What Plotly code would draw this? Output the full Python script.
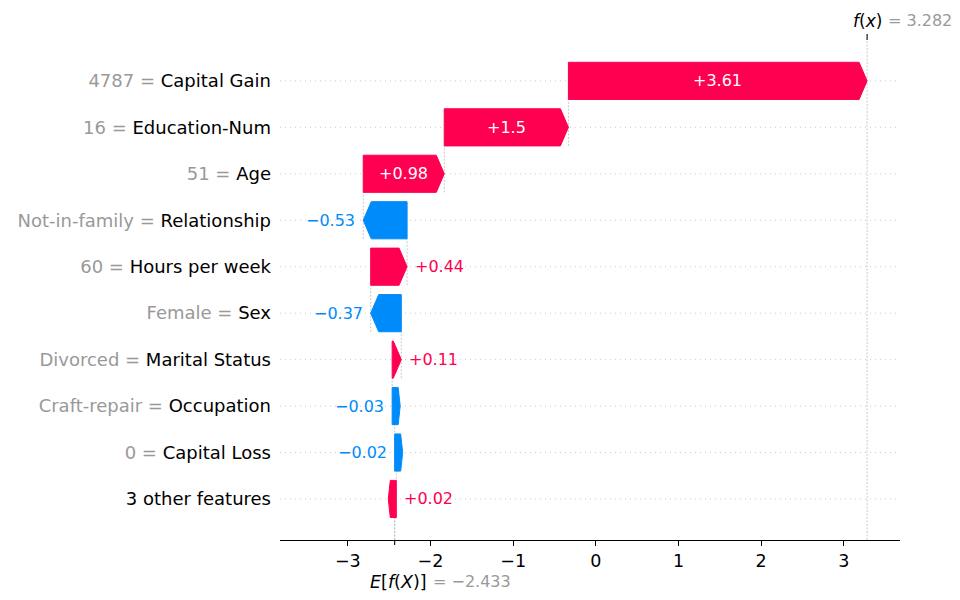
import plotly.graph_objects as go

feature_names = ["3 other features", "Capital Loss", "Occupation", "Marital Status", "Sex",
                 "Hours per week", "Relationship", "Age", "Education-Num", "Capital Gain"]
feature_values = ["", "0", "Craft-repair", "Divorced", "Female",
                  "60", "Not-in-family", "51", "16", "4787"]
shap_values = [0.02, -0.02, -0.03, 0.11, -0.37, 0.44, -0.53, 0.98, 1.502, 3.613]
base_value = -2.433
fx_value = 3.282
x_ticks = [-3, -2, -1, 0, 1, 2, 3]

# ---- styling ----
RED = "#ff0051"
BLUE = "#008bfb"
GRAY_TXT = "#999999"
LINE_GRAY = "#bbbbbb"
FONT = "DejaVu Sans"
# page body has an 8px default margin, so the figure is offset by 8px
W, H = 952, 592
ML, MR, MT, MB = 272, 60, 32, 60
x_range = [-3.82, 3.68]
y_range = [-0.883, 9.88]
plot_w = W - ML - MR
plot_h = H - MT - MB
x_per_px = (x_range[1] - x_range[0]) / plot_w
head_len = 8 * x_per_px
half_h = 0.4


def fmt(v):
    s = "%+0.2f" % v
    s = s.rstrip("0").rstrip(".")
    return s.replace("-", "\u2212")


def fmt3(v):
    return ("%0.3f" % v).replace("-", "\u2212")


char_w = {"+": 0.838, "\u2212": 0.838, ".": 0.318}


def text_px(s, size=16):
    return sum(char_w.get(c, 0.636) for c in s) * size


fig = go.Figure()
shapes = []
annotations = []

# horizontal dotted row guides
for r in range(len(feature_names)):
    shapes.append(dict(type="line", xref="paper", yref="y", x0=0, x1=1, y0=r, y1=r,
                       line=dict(color="#cccccc", width=1, dash="1px,4px"), layer="below"))

cur = base_value
for r, v in enumerate(shap_values):
    a = cur
    b = cur + v
    cur = b
    color = RED if v >= 0 else BLUE
    d = 1 if v >= 0 else -1
    y = r
    if abs(v) >= head_len:
        neck = b - d * head_len
        xs = [a, neck, b, neck, a, a]
        ys = [y - half_h, y - half_h, y, y + half_h, y + half_h, y - half_h]
    else:
        far = b - d * head_len
        c = 0.25 * head_len
        xs = [b, far + d * c, far, far + d * c, b, b]
        ys = [y - half_h, y - half_h, y, y + half_h, y + half_h, y - half_h]
    fig.add_trace(go.Scatter(x=xs, y=ys, mode="lines", fill="toself", fillcolor=color,
                             line=dict(color=color, width=1), hoverinfo="skip"))

    # connector dashed line at the start of the bar
    shapes.append(dict(type="line", xref="x", yref="y", x0=a, x1=a,
                       y0=max(y - 1 - half_h, y_range[0]), y1=y + half_h,
                       line=dict(color=LINE_GRAY, width=0.8, dash="2px,1.5px"), layer="below"))

    label = fmt(v)
    bar_px = abs(v) / x_per_px
    if text_px(label) < bar_px - 4:
        annotations.append(dict(x=(a + b) / 2, y=y, xref="x", yref="y", text=label,
                                showarrow=False, font=dict(family=FONT, size=16, color="white"),
                                xanchor="center", yanchor="middle"))
    else:
        annotations.append(dict(x=b, y=y, xref="x", yref="y", text=label, showarrow=False,
                                font=dict(family=FONT, size=16, color=color),
                                xanchor="left" if v >= 0 else "right",
                                xshift=6 if v >= 0 else -6, yanchor="middle"))

# E[f(X)] line (bottom portion) and f(x) line (full height)
shapes.append(dict(type="line", xref="x", yref="paper", x0=base_value, x1=base_value,
                   y0=0, y1=1 / len(feature_names),
                   line=dict(color=LINE_GRAY, width=0.8, dash="2px,1.5px"), layer="below"))
shapes.append(dict(type="line", xref="x", yref="paper", x0=fx_value, x1=fx_value, y0=0, y1=1,
                   line=dict(color=LINE_GRAY, width=0.8, dash="2px,1.5px"), layer="below"))

# tick marks for f(x) (top) and E[f(X)] (bottom)
shapes.append(dict(type="line", xref="x", yref="paper", x0=fx_value, x1=fx_value,
                   y0=1, y1=1 + 6 / plot_h, line=dict(color="black", width=1.1)))
shapes.append(dict(type="line", xref="x", yref="paper", x0=base_value, x1=base_value,
                   y0=0, y1=-5 / plot_h, line=dict(color="black", width=1.1)))

annotations.append(dict(x=fx_value, y=1, xref="x", yref="paper", yshift=19.3,
                        text="<i>f</i>(<i>x</i>)", showarrow=False,
                        font=dict(family=FONT, size=17, color="black"),
                        xanchor="right", xshift=16.4, yanchor="middle"))
annotations.append(dict(x=fx_value, y=1, xref="x", yref="paper", yshift=19.3,
                        text="= " + fmt3(fx_value), showarrow=False,
                        font=dict(family=FONT, size=16, color=GRAY_TXT),
                        xanchor="left", xshift=19, yanchor="middle"))
annotations.append(dict(x=base_value, y=0, xref="x", yref="paper", yshift=-41.7,
                        text="<i>E</i>[<i>f</i>(<i>X</i>)]", showarrow=False,
                        font=dict(family=FONT, size=17.5, color="black"),
                        xanchor="right", xshift=34, yanchor="middle"))
annotations.append(dict(x=base_value, y=0, xref="x", yref="paper", yshift=-41.7,
                        text="= " + fmt3(base_value), showarrow=False,
                        font=dict(family=FONT, size=16, color=GRAY_TXT),
                        xanchor="left", xshift=36, yanchor="middle"))

y_ticktext = []
for name, val in zip(feature_names, feature_values):
    if val == "":
        y_ticktext.append(name)
    else:
        y_ticktext.append("<span style='color:%s'>%s = </span>%s" % (GRAY_TXT, val, name))

x_ticktext = [str(t).replace("-", "\u2212") for t in x_ticks]

fig.update_layout(
    width=W, height=H,
    margin=dict(l=ML, r=MR, t=MT, b=MB, autoexpand=False),
    paper_bgcolor="white", plot_bgcolor="white",
    showlegend=False,
    shapes=shapes,
    annotations=annotations,
    xaxis=dict(range=x_range, tickvals=x_ticks, ticktext=x_ticktext, automargin=False,
               ticks="outside", ticklen=5, tickwidth=1.1, tickcolor="black",
               showline=True, linecolor="black", linewidth=1.1,
               showgrid=False, zeroline=False, fixedrange=True,
               tickfont=dict(family=FONT, size=17.5, color="black")),
    yaxis=dict(range=y_range, tickvals=list(range(len(feature_names))), ticktext=y_ticktext,
               automargin=False,
               ticks="", showline=False, showgrid=False, zeroline=False, fixedrange=True,
               ticklabelstandoff=8,
               tickfont=dict(family=FONT, size=18, color="black")),
)

fig.write_html("out.html", config={"displayModeBar": False})
